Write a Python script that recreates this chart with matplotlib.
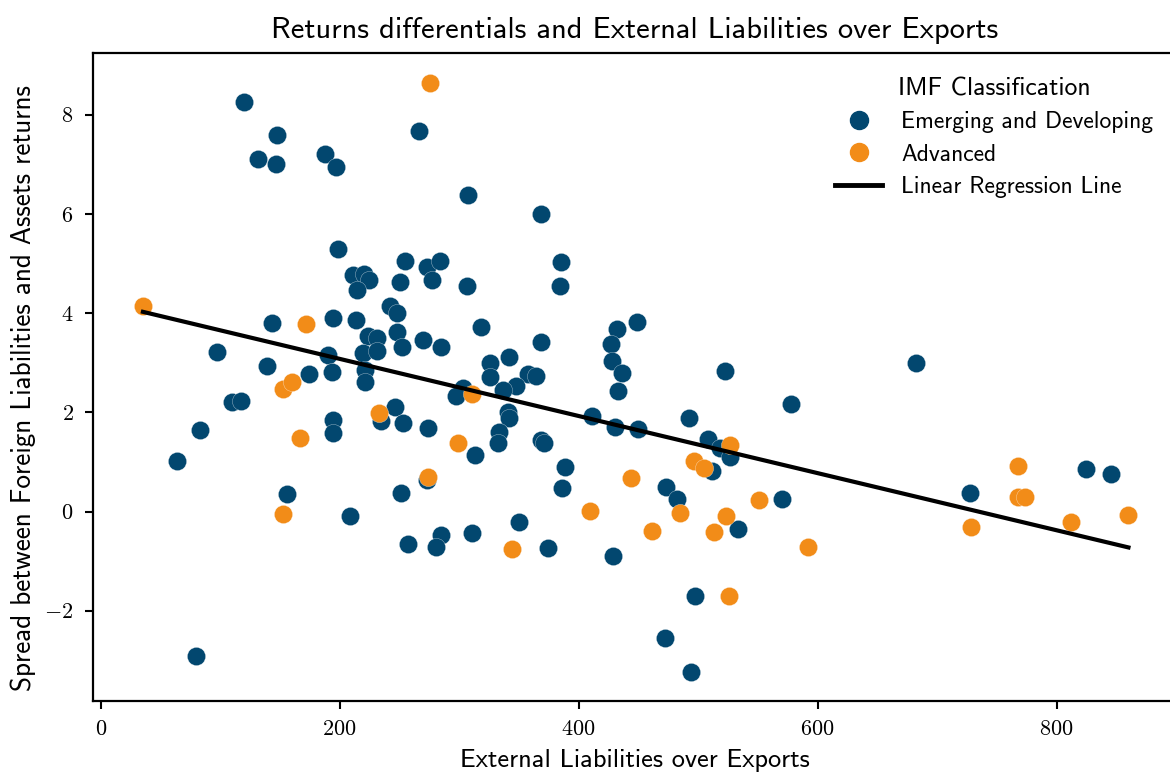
import numpy as np
import matplotlib
matplotlib.use("Agg")
import matplotlib.pyplot as plt
from matplotlib.ticker import FuncFormatter
from matplotlib.lines import Line2D

# Emerging and developing economies
emerging_x = [119.9, 147.5, 131.6, 146.6, 187.6, 196.8, 266.3, 307.3, 368.3, 198.5,
              211.1, 220.3, 224.4, 214.4, 254.6, 273.0, 283.9, 277.2, 250.4, 306.4,
              385.0, 384.2, 242.0, 247.9, 143.3, 194.3, 213.6, 223.6, 231.1, 219.4,
              231.1, 190.1, 221.1, 221.1, 193.5, 174.2, 139.1, 97.3, 109.8, 117.4,
              83.1, 63.9, 194.3, 194.3, 234.5, 155.8, 208.5, 247.9, 252.0, 269.6,
              284.7, 318.1, 368.3, 341.6, 325.7, 325.7, 357.4, 364.1, 347.4, 336.5,
              303.1, 297.2, 340.7, 341.6, 431.9, 448.6, 426.9, 427.7, 436.1, 432.7,
              410.9, 430.2, 449.5, 246.2, 252.9, 273.8, 313.1, 333.2, 332.3, 368.3,
              370.8, 388.4, 385.9, 272.9, 251.2, 472.9, 482.1, 349.9, 310.6, 284.7,
              257.1, 280.5, 374.2, 428.5, 522.2, 577.4, 682.0, 492.1, 508.1, 518.0,
              526.4, 511.4, 533.1, 569.9, 727.2, 824.3, 846.0, 79.7, 497.2, 472.1,
              493.9]
emerging_y = [8.26, 7.60, 7.11, 7.01, 7.21, 6.95, 7.67, 6.39, 6.01, 5.30,
              4.77, 4.79, 4.68, 4.46, 5.06, 4.94, 5.06, 4.68, 4.64, 4.56,
              5.04, 4.56, 4.15, 4.01, 3.80, 3.91, 3.87, 3.55, 3.51, 3.20,
              3.24, 3.16, 2.86, 2.62, 2.82, 2.78, 2.94, 3.22, 2.21, 2.23,
              1.65, 1.03, 1.85, 1.59, 1.83, 0.36, -0.08, 3.63, 3.32, 3.46,
              3.32, 3.72, 3.42, 3.12, 3.00, 2.72, 2.78, 2.74, 2.54, 2.46,
              2.50, 2.33, 2.01, 1.89, 3.69, 3.83, 3.38, 3.04, 2.80, 2.44,
              1.93, 1.71, 1.67, 2.11, 1.79, 1.69, 1.15, 1.61, 1.39, 1.45,
              1.39, 0.90, 0.48, 0.64, 0.38, 0.50, 0.26, -0.20, -0.43, -0.47,
              -0.65, -0.71, -0.73, -0.89, 2.84, 2.17, 3.00, 1.89, 1.47, 1.29,
              1.11, 0.81, -0.35, 0.26, 0.38, 0.86, 0.76, -2.91, -1.70, -2.54,
              -3.23]

# Advanced economies
advanced_x = [35.4, 275.5, 171.7, 152.5, 160.0, 232.8, 166.7, 152.5, 310.6, 298.9,
              273.8, 409.3, 443.6, 461.2, 484.6, 344.0, 496.3, 504.7, 526.4, 523.0,
              513.0, 525.6, 550.7, 591.7, 728.1, 767.4, 767.4, 774.0, 812.5, 860.2]
advanced_y = [4.15, 8.65, 3.79, 2.48, 2.62, 1.99, 1.49, -0.04, 2.38, 1.39,
              0.70, 0.02, 0.68, -0.39, -0.02, -0.75, 1.02, 0.88, 1.34, -0.08,
              -0.41, -1.70, 0.24, -0.71, -0.31, 0.92, 0.30, 0.30, -0.21, -0.07]

groups = ["Emerging and Developing", "Advanced"]
colors = ["#02476F", "#F28C18"]

plt.rcParams["mathtext.fontset"] = "cm"
plt.rcParams["font.family"] = ["cmss10", "DejaVu Sans"]
plt.rcParams["axes.unicode_minus"] = True

fig = plt.figure(figsize=(11.7, 7.72), dpi=100)
ax = fig.add_axes([93 / 1170, 71 / 772, 1083 / 1170, 648 / 772])

ax.scatter(emerging_x, emerging_y, s=172, color=colors[0], edgecolor="white",
           linewidth=0.2, zorder=2)
ax.scatter(advanced_x, advanced_y, s=172, color=colors[1], edgecolor="white",
           linewidth=0.2, zorder=3)

# Ordinary least squares fit over all economies
all_x = np.array(emerging_x + advanced_x)
all_y = np.array(emerging_y + advanced_y)
slope, intercept = np.polyfit(all_x, all_y, 1)
line_x = np.array([all_x.min(), all_x.max()])
ax.plot(line_x, intercept + slope * line_x, color="black", lw=3, zorder=4)

ax.set_xlim(-6.4, 900)
ax.set_ylim(-3.82, 9.25)
ax.set_xticks([0, 200, 400, 600, 800])
ax.set_yticks([-2, 0, 2, 4, 6, 8])
ax.xaxis.set_major_formatter(FuncFormatter(lambda v, p: f"${v:g}$"))
ax.yaxis.set_major_formatter(FuncFormatter(lambda v, p: f"${v:g}$"))
ax.tick_params(labelsize=16, length=6, width=1.5, direction="out")
ax.tick_params(axis="x", pad=8)
ax.tick_params(axis="y", pad=8)
for sp in ax.spines.values():
    sp.set_linewidth(1.6)

ax.set_title("Returns differentials and External Liabilities over Exports",
             fontsize=22, pad=11)
ax.set_xlabel("External Liabilities over Exports", fontsize=19, labelpad=7)
ax.set_ylabel("Spread between Foreign Liabilities and Assets returns",
              fontsize=19.6)
ax.yaxis.set_label_coords(-0.053, 0.483)

handles = [
    Line2D([], [], marker="o", ls="", markersize=13, color=colors[0]),
    Line2D([], [], marker="o", ls="", markersize=13, color=colors[1]),
    Line2D([], [], color="black", lw=3.5),
]
ax.legend(handles, groups + ["Linear Regression Line"], title="IMF Classification",
          fontsize=17, title_fontsize=18.5, frameon=False, loc="upper right",
          bbox_to_anchor=(0.9985, 0.995), labelspacing=0.45, handlelength=2.0,
          handletextpad=0.8)

fig.savefig("out.png", dpi=100)
